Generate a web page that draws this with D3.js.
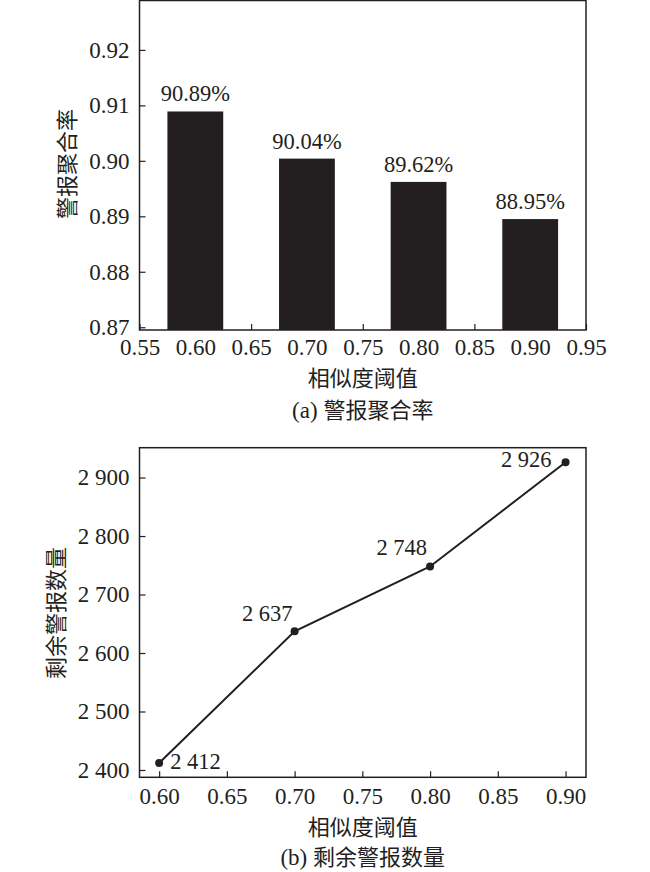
<!DOCTYPE html>
<html>
<head>
<meta charset="utf-8">
<script src="https://cdn.jsdelivr.net/npm/d3@7"></script>
<style>
  body { margin: 0; background: #fff; }
  svg text { fill: #231f20; }
</style>
</head>
<body>
<script>
// data
var thresholds = [0.60, 0.70, 0.80, 0.90];
var aggRate = [0.9089, 0.9004, 0.8962, 0.8895];
var aggLabels = ["90.89%", "90.04%", "89.62%", "88.95%"];
var remaining = [2412, 2637, 2748, 2926];
var rateTicks = [0.87, 0.88, 0.89, 0.90, 0.91, 0.92];
var topXTicks = [0.55, 0.60, 0.65, 0.70, 0.75, 0.80, 0.85, 0.90, 0.95];
var botXTicks = [0.60, 0.65, 0.70, 0.75, 0.80, 0.85, 0.90];
var countTicks = [2400, 2500, 2600, 2700, 2800, 2900];

var numFont = "'Liberation Serif', 'Times New Roman', serif";
var cjkFont = "'Noto Sans CJK SC', sans-serif";
var ink = "#231f20";
var tickFs = 23, valFs = 22.5, cjkFs = 22;

var svg = d3.select("body").append("svg")
  .attr("width", 650).attr("height", 872);

var left = 139.5, right = 586;

function spaced(d) { return String(d).replace(/(\d)(\d{3})$/, "$1 $2"); }

function styleAxis(g) {
  g.select(".domain").remove();
  g.selectAll("line").attr("stroke", ink).attr("stroke-width", 1.2);
  g.selectAll("text").attr("font-family", numFont).attr("font-size", tickFs).attr("fill", ink);
}

// ---------- (a) bars ----------
var topY0 = 0, topY1 = 330;
var xa = d3.scaleLinear().domain([0.55, 0.95]).range([left, right]);
var ya = d3.scaleLinear().domain([0.8695, 0.929]).range([topY1, topY0]);

var ga = svg.append("g");

ga.append("g").attr("transform", "translate(0," + topY1 + ")")
  .call(d3.axisBottom(xa).tickValues(topXTicks).tickFormat(d3.format(".2f"))
    .tickSize(-6).tickPadding(9))
  .call(styleAxis);

ga.append("g").attr("transform", "translate(" + left + ",0)")
  .call(d3.axisLeft(ya).tickValues(rateTicks).tickFormat(d3.format(".2f"))
    .tickSize(-6).tickPadding(10))
  .call(styleAxis);

ga.selectAll("rect.bar").data(thresholds).enter().append("rect")
  .attr("class", "bar")
  .attr("x", function(d) { return xa(d - 0.025); })
  .attr("width", function(d) { return xa(d + 0.025) - xa(d - 0.025); })
  .attr("y", function(d, i) { return ya(aggRate[i]); })
  .attr("height", function(d, i) { return topY1 - ya(aggRate[i]); })
  .attr("fill", ink);

ga.selectAll("text.val").data(thresholds).enter().append("text")
  .attr("class", "val")
  .attr("x", function(d) { return xa(d); })
  .attr("y", function(d, i) { return ya(aggRate[i]) - 10; })
  .attr("text-anchor", "middle")
  .attr("font-family", numFont).attr("font-size", valFs)
  .text(function(d, i) { return aggLabels[i]; });

ga.append("rect")
  .attr("x", left).attr("y", topY0 + 0.5)
  .attr("width", right - left).attr("height", topY1 - topY0 - 0.5)
  .attr("fill", "none").attr("stroke", ink).attr("stroke-width", 1.5);

ga.append("text")
  .attr("transform", "translate(67,164) rotate(-90)")
  .attr("text-anchor", "middle").attr("dy", "0.35em")
  .attr("font-family", cjkFont).attr("font-size", cjkFs)
  .text("警报聚合率");

ga.append("text")
  .attr("x", (left + right) / 2).attr("y", 386)
  .attr("text-anchor", "middle")
  .attr("font-family", cjkFont).attr("font-size", cjkFs)
  .text("相似度阈值");

ga.append("text")
  .attr("x", (left + right) / 2).attr("y", 418)
  .attr("text-anchor", "middle")
  .attr("font-size", cjkFs)
  .call(function(t) {
    t.append("tspan").attr("font-family", numFont).attr("font-size", tickFs).text("(a) ");
    t.append("tspan").attr("font-family", cjkFont).text("警报聚合率");
  });

// ---------- (b) line ----------
var botY0 = 447.7, botY1 = 777.3;
var xb = d3.scaleLinear().domain([0.5855, 0.9151]).range([left, right]);
var yb = d3.scaleLinear().domain([2387.5, 2951]).range([botY1, botY0]);

var gb = svg.append("g");

gb.append("g").attr("transform", "translate(0," + botY1 + ")")
  .call(d3.axisBottom(xb).tickValues(botXTicks).tickFormat(d3.format(".2f"))
    .tickSize(-6).tickPadding(10))
  .call(styleAxis);

gb.append("g").attr("transform", "translate(" + left + ",0)")
  .call(d3.axisLeft(yb).tickValues(countTicks).tickFormat(spaced)
    .tickSize(-6).tickPadding(10))
  .call(styleAxis);

gb.append("rect")
  .attr("x", left).attr("y", botY0)
  .attr("width", right - left).attr("height", botY1 - botY0)
  .attr("fill", "none").attr("stroke", ink).attr("stroke-width", 1.5);

var line = d3.line()
  .x(function(d) { return xb(d); })
  .y(function(d, i) { return yb(remaining[i]); });

gb.append("path").datum(thresholds)
  .attr("d", line)
  .attr("fill", "none").attr("stroke", ink).attr("stroke-width", 2);

gb.selectAll("circle").data(thresholds).enter().append("circle")
  .attr("cx", function(d) { return xb(d); })
  .attr("cy", function(d, i) { return yb(remaining[i]); })
  .attr("r", 4).attr("fill", ink);

// label offsets per point: [dx, dy, anchor]
var labelPos = [[11, 6, "start"], [-2, -10, "end"], [-3, -11, "end"], [-14, 5, "end"]];

gb.selectAll("text.val").data(thresholds).enter().append("text")
  .attr("class", "val")
  .attr("x", function(d, i) { return xb(d) + labelPos[i][0]; })
  .attr("y", function(d, i) { return yb(remaining[i]) + labelPos[i][1]; })
  .attr("text-anchor", function(d, i) { return labelPos[i][2]; })
  .attr("font-family", numFont).attr("font-size", valFs)
  .text(function(d, i) { return spaced(remaining[i]); });

gb.append("text")
  .attr("transform", "translate(56,613) rotate(-90)")
  .attr("text-anchor", "middle").attr("dy", "0.35em")
  .attr("font-family", cjkFont).attr("font-size", cjkFs)
  .text("剩余警报数量");

gb.append("text")
  .attr("x", (left + right) / 2).attr("y", 835)
  .attr("text-anchor", "middle")
  .attr("font-family", cjkFont).attr("font-size", cjkFs)
  .text("相似度阈值");

gb.append("text")
  .attr("x", (left + right) / 2).attr("y", 865)
  .attr("text-anchor", "middle")
  .attr("font-size", cjkFs)
  .call(function(t) {
    t.append("tspan").attr("font-family", numFont).attr("font-size", tickFs).text("(b) ");
    t.append("tspan").attr("font-family", cjkFont).text("剩余警报数量");
  });
</script>
</body>
</html>
